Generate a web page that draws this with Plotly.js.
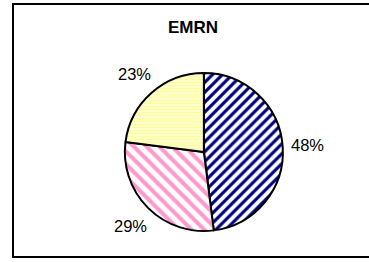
<!DOCTYPE html>
<html><head><meta charset="utf-8">
<script src="https://cdn.plot.ly/plotly-3.0.1.min.js"></script>
<style>html,body{margin:0;padding:0;background:#fff;}</style>
</head><body>
<div id="chart" style="width:369px;height:262px;"></div>
<script>
var categories = ["A", "B", "C"];
var values = [48, 29, 23];
var labelsText = ["48%", "29%", "23%"];

var W = 369, H = 262;
var domY = [1 - 231/262, 1 - 73/262];
var domX = [0.20, 0.905];
var cx = (domX[0] + domX[1]) / 2 * W;
var cy = (1 - (domY[0] + domY[1]) / 2) * H;
var R = (domY[1] - domY[0]) * H / 2;
var labelR = R * 1.32;

var total = values.reduce(function (a, b) { return a + b; }, 0);
var annotations = [];
var cum = 0;
for (var i = 0; i < values.length; i++) {
  var mid = (cum + values[i] / 2) / total * 2 * Math.PI;
  cum += values[i];
  var px = cx + labelR * Math.sin(mid);
  var py = cy - labelR * Math.cos(mid);
  annotations.push({
    text: labelsText[i], xref: "paper", yref: "paper",
    x: px / W, y: 1 - py / H, xanchor: "center", yanchor: "middle",
    showarrow: false,
    font: {family: "Liberation Sans, Arial, sans-serif", size: 16.5, color: "#000"}
  });
}

var trace = {
  type: "pie",
  labels: categories,
  values: values,
  textinfo: "none",
  sort: false,
  direction: "clockwise",
  rotation: 0,
  showlegend: false,
  hoverinfo: "none",
  domain: {x: domX, y: domY},
  marker: {
    colors: ["#ffffff", "#ffffff", "#ffffdd"],
    line: {color: "#000", width: 2},
    pattern: {
      shape: ["/", "\\", "-"],
      fgcolor: ["#000080", "#ff99cc", "#ffff99"],
      bgcolor: ["#ffffff", "#ffffff", "#ffffdd"],
      size: [7, 9, 3],
      solidity: [0.45, 0.45, 0.5],
      fillmode: "replace"
    }
  }
};

var layout = {
  width: W, height: H,
  margin: {l: 0, r: 0, t: 0, b: 0},
  paper_bgcolor: "#fff",
  title: {text: "<b>EMRN</b>", x: 193/369, xanchor: "center", y: 1 - 27/262, yanchor: "middle",
    font: {family: "Liberation Sans, Arial, sans-serif", size: 17, color: "#000"}},
  annotations: annotations,
  shapes: [{type: "rect", xref: "paper", yref: "paper", x0: 13/369, x1: 373/369, y0: 1-257/262, y1: 1-4/262,
    line: {color: "#000", width: 2}}]
};
Plotly.newPlot("chart", [trace], layout, {displayModeBar: false, staticPlot: true});
</script>
</body></html>
